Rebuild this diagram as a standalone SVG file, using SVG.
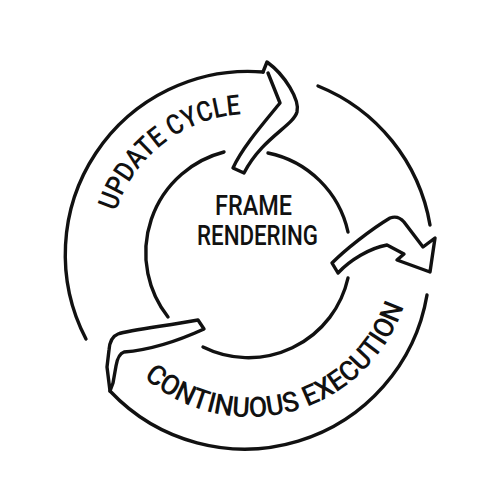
<svg xmlns="http://www.w3.org/2000/svg" width="500" height="500" viewBox="0 0 500 500">
<defs>
<style>
.ln{fill:none;stroke:#111;stroke-width:3.4;stroke-linecap:round;stroke-linejoin:round}
.lbl{font-family:Roboto,"Liberation Sans","DejaVu Sans",sans-serif;font-size:28px;font-weight:500;fill:#111}
</style>
<path id="tp-top" d="M 115.9 211.4 A 141 141 0 0 1 242.6 114.2"/>
<path id="tp-bot" d="M 143.7 377.3 A 162 162 0 0 0 404.1 305.1"/>
</defs>
<rect width="500" height="500" fill="#fff"/>
<g id="connectors">
  <g id="arrow-update">
    <path class="ln" d="M 86 339 A 183 183 0 0 1 263 72"/>
    <path class="ln" d="M 263 72 L 267 62 C 285 75 300 100 297 112 C 293 126 262 138 244 173 L 233 168 C 242 148 262 125 280 103 L 268 73"/>
    <path class="ln" d="M 168 317 A 104 104 0 0 1 224 152"/>
  </g>
  <g id="arrow-render">
    <path class="ln" d="M 318 86 A 183 183 0 0 1 430 225"/>
    <path class="ln" d="M 268 153 A 103 103 0 0 1 348 232"/>
    <path class="ln" d="M 332 263 C 345 250 370 230 390 218 Q 398 215 404 222 L 423 247 L 435 238 L 430 272 L 397 260 L 404 254 L 387 245 C 370 248 350 260 338 273 Z"/>
  </g>
  <g id="arrow-continuous">
    <path class="ln" d="M 110 391 A 185 185 0 0 0 427 295"/>
    <path class="ln" d="M 348 278 A 102 102 0 0 1 203 347"/>
    <path class="ln" d="M 198 320 C 165 326 130 330 118 334 Q 110 337 109 350 L 107 367 L 110 391 L 113 383 L 116 366 Q 118 354 124 352 C 150 350 180 340 204 329 Z"/>
  </g>
</g>
<g id="label-update">
  <text class="lbl"><textPath href="#tp-top" textLength="168" lengthAdjust="spacingAndGlyphs">UPDATE CYCLE</textPath></text>
</g>
<g id="label-continuous">
  <text class="lbl"><textPath href="#tp-bot" textLength="318" lengthAdjust="spacingAndGlyphs">CONTINUOUS EXECUTION</textPath></text>
</g>
<g id="node-frame-rendering">
  <text class="lbl" x="215" y="215" textLength="77" lengthAdjust="spacingAndGlyphs">FRAME</text>
  <text class="lbl" x="197" y="245" textLength="121" lengthAdjust="spacingAndGlyphs">RENDERING</text>
</g>
</svg>
